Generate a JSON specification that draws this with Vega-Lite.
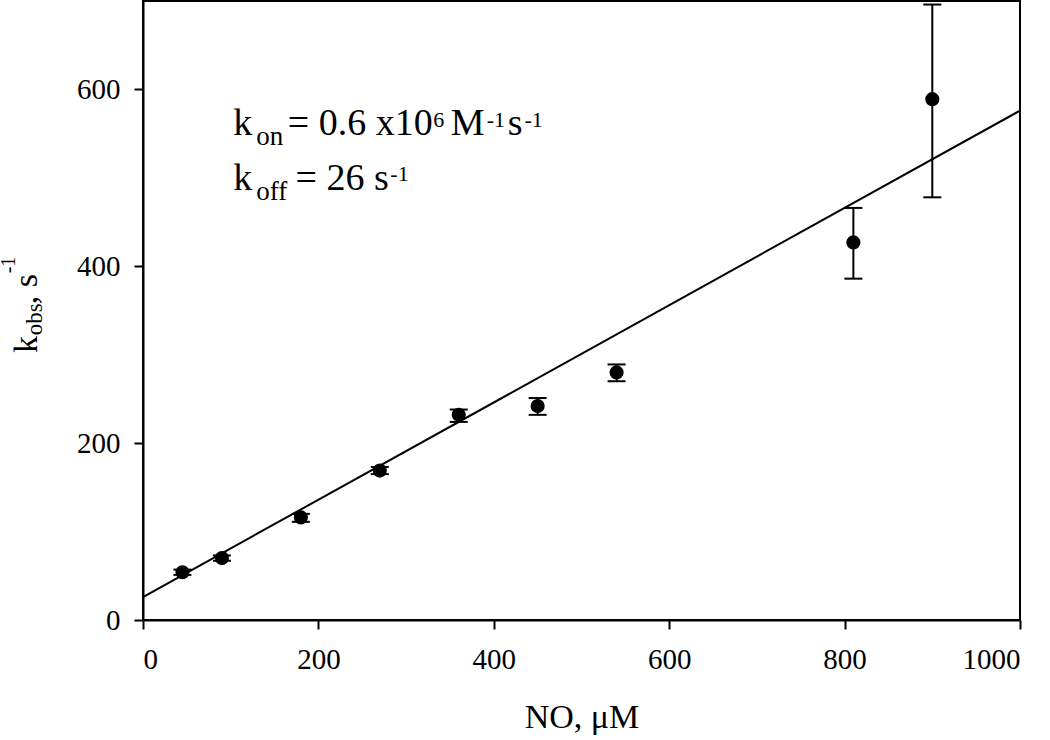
{
  "$schema": "https://vega.github.io/schema/vega-lite/v6.json",
  "autosize": {"type": "none"},
  "width": 877,
  "height": 619,
  "padding": {"left": 143, "top": 1, "right": 30, "bottom": 120},
  "background": "white",
  "config": {
    "view": {"stroke": "black", "strokeWidth": 2},
    "font": "Liberation Serif",
    "axis": {
      "grid": false,
      "domainColor": "black",
      "domainWidth": 2,
      "tickColor": "black",
      "tickWidth": 2,
      "tickSize": 9,
      "labelColor": "black",
      "labelFont": "Liberation Serif",
      "labelFontSize": 29,
      "titleFont": "Liberation Serif",
      "titleFontSize": 34,
      "titleFontWeight": "normal",
      "titleColor": "black"
    }
  },
  "datasets": {
    "pts": [
      {"no": 45, "k": 54, "lo": 51, "hi": 57},
      {"no": 90, "k": 70, "lo": 67, "hi": 73},
      {"no": 180, "k": 116, "lo": 111, "hi": 120},
      {"no": 270, "k": 169, "lo": 165, "hi": 173},
      {"no": 360, "k": 232, "lo": 224, "hi": 238},
      {"no": 450, "k": 242, "lo": 232, "hi": 251},
      {"no": 540, "k": 280, "lo": 270, "hi": 289},
      {"no": 810, "k": 427, "lo": 386, "hi": 466},
      {"no": 900, "k": 589, "lo": 478, "hi": 696}
    ],
    "fit": [
      {"no": 0, "k": 26},
      {"no": 1000, "k": 576}
    ],
    "big": [
      {"no": 103, "k": 548, "t": "k"},
      {"no": 165, "k": 548, "t": "= 0.6 x10"},
      {"no": 351, "k": 548, "t": "M"},
      {"no": 416, "k": 548, "t": "s"},
      {"no": 103, "k": 486, "t": "k"},
      {"no": 174, "k": 486, "t": "= 26 s"}
    ],
    "sub": [
      {"no": 129, "k": 537, "t": "on"},
      {"no": 129, "k": 475, "t": "off"}
    ],
    "sup": [
      {"no": 331, "k": 558, "t": "6"},
      {"no": 392, "k": 558, "t": "-1"},
      {"no": 435, "k": 558, "t": "-1"},
      {"no": 282, "k": 497, "t": "-1"}
    ],
    "ytitle": [
      {"no": -121, "k": 302, "t": "k"},
      {"no": -121, "k": 357, "t": ", s"}
    ],
    "ytsub": [
      {"no": -115, "k": 322, "t": "obs"}
    ],
    "ytsup": [
      {"no": -146, "k": 392, "t": "-1"}
    ]
  },
  "layer": [
    {
      "data": {"name": "fit"},
      "mark": {"type": "line", "color": "black", "strokeWidth": 2},
      "encoding": {
        "x": {"field": "no", "type": "quantitative", "scale": {"domain": [0, 1000], "nice": false},
              "axis": {"values": [0, 200, 400, 600, 800, 1000], "format": "d", "title": "NO, μM", "labelPadding": 16, "titlePadding": 26}},
        "y": {"field": "k", "type": "quantitative", "scale": {"domain": [0, 700], "nice": false},
              "axis": {"values": [0, 200, 400, 600], "title": null, "labelPadding": 14}}
      }
    },
    {
      "data": {"name": "pts"},
      "mark": {"type": "rule", "color": "black", "strokeWidth": 2},
      "encoding": {
        "x": {"field": "no", "type": "quantitative"},
        "y": {"field": "lo", "type": "quantitative"},
        "y2": {"field": "hi"}
      }
    },
    {
      "data": {"name": "pts"},
      "mark": {"type": "tick", "color": "black", "orient": "horizontal", "size": 18, "thickness": 2, "opacity": 1},
      "encoding": {
        "x": {"field": "no", "type": "quantitative"},
        "y": {"field": "lo", "type": "quantitative"}
      }
    },
    {
      "data": {"name": "pts"},
      "mark": {"type": "tick", "color": "black", "orient": "horizontal", "size": 18, "thickness": 2, "opacity": 1},
      "encoding": {
        "x": {"field": "no", "type": "quantitative"},
        "y": {"field": "hi", "type": "quantitative"}
      }
    },
    {
      "data": {"name": "pts"},
      "mark": {"type": "circle", "color": "black", "size": 200, "opacity": 1},
      "encoding": {
        "x": {"field": "no", "type": "quantitative"},
        "y": {"field": "k", "type": "quantitative"}
      }
    },
    {
      "data": {"name": "big"},
      "mark": {"type": "text", "font": "Liberation Serif", "fontSize": 38, "align": "left", "baseline": "alphabetic", "color": "black"},
      "encoding": {
        "x": {"field": "no", "type": "quantitative"},
        "y": {"field": "k", "type": "quantitative"},
        "text": {"field": "t"}
      }
    },
    {
      "data": {"name": "sub"},
      "mark": {"type": "text", "font": "Liberation Serif", "fontSize": 27, "align": "left", "baseline": "alphabetic", "color": "black"},
      "encoding": {
        "x": {"field": "no", "type": "quantitative"},
        "y": {"field": "k", "type": "quantitative"},
        "text": {"field": "t"}
      }
    },
    {
      "data": {"name": "sup"},
      "mark": {"type": "text", "font": "Liberation Serif", "fontSize": 22, "align": "left", "baseline": "alphabetic", "color": "black"},
      "encoding": {
        "x": {"field": "no", "type": "quantitative"},
        "y": {"field": "k", "type": "quantitative"},
        "text": {"field": "t"}
      }
    },
    {
      "data": {"name": "ytitle"},
      "mark": {"type": "text", "font": "Liberation Serif", "fontSize": 34, "align": "left", "baseline": "alphabetic", "angle": 270, "color": "black"},
      "encoding": {
        "x": {"field": "no", "type": "quantitative"},
        "y": {"field": "k", "type": "quantitative"},
        "text": {"field": "t"}
      }
    },
    {
      "data": {"name": "ytsub"},
      "mark": {"type": "text", "font": "Liberation Serif", "fontSize": 23, "align": "left", "baseline": "alphabetic", "angle": 270, "color": "black"},
      "encoding": {
        "x": {"field": "no", "type": "quantitative"},
        "y": {"field": "k", "type": "quantitative"},
        "text": {"field": "t"}
      }
    },
    {
      "data": {"name": "ytsup"},
      "mark": {"type": "text", "font": "Liberation Serif", "fontSize": 20, "align": "left", "baseline": "alphabetic", "angle": 270, "color": "black"},
      "encoding": {
        "x": {"field": "no", "type": "quantitative"},
        "y": {"field": "k", "type": "quantitative"},
        "text": {"field": "t"}
      }
    }
  ]
}
